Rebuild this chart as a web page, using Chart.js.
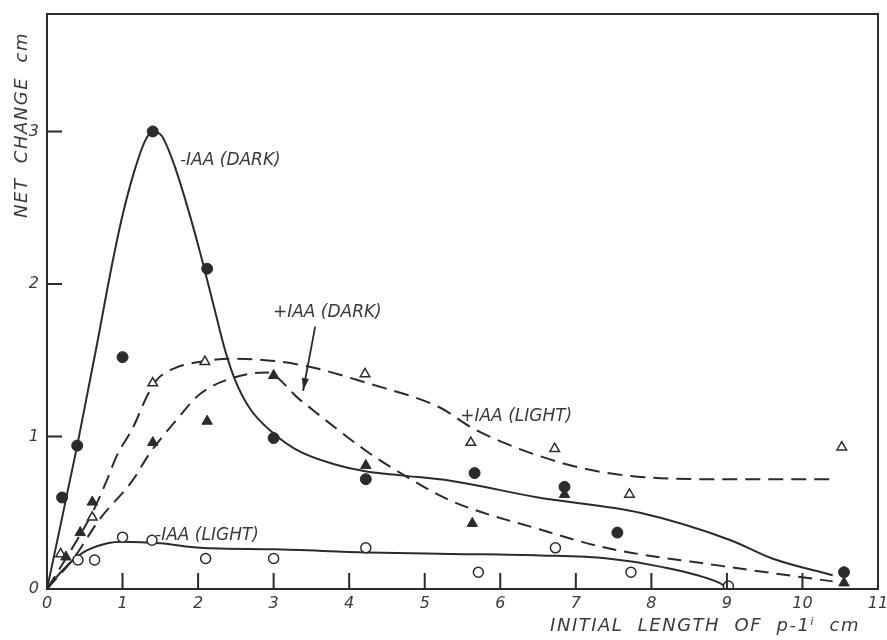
<!DOCTYPE html>
<html>
<head>
<meta charset="utf-8">
<script src="https://cdn.jsdelivr.net/npm/chart.js@4"></script>
<style>
  html, body { margin: 0; padding: 0; background: #fff; }
  #wrap { width: 887px; height: 640px; }
</style>
</head>
<body>
<div id="wrap"><canvas id="chart" width="887" height="640"></canvas></div>
<script>
const xTicks = [0, 1, 2, 3, 4, 5, 6, 7, 8, 9, 10, 11];
const yTicks = [0, 1, 2, 3];
const xMax = 11;
const yMax = 3.77;

// -IAA (DARK): filled circles + solid curve
const minusDarkX = [0.2, 0.4, 1.0, 1.4, 2.12, 3.0, 4.22, 5.66, 6.85, 7.55, 10.55];
const minusDarkY = [0.6, 0.94, 1.52, 3.0, 2.1, 0.99, 0.72, 0.76, 0.67, 0.37, 0.11];
const minusDarkCurveX = [0, 0.4, 0.66, 0.85, 1.0, 1.15, 1.3, 1.4, 1.52, 1.67, 1.85, 2.03, 2.2, 2.36, 2.49, 2.69, 3.0, 3.35, 3.79, 4.23, 4.68, 5.34, 6.5, 7.85, 9.05, 9.6, 10.4];
const minusDarkCurveY = [0, 0.94, 1.6, 2.1, 2.45, 2.73, 2.94, 3.0, 2.97, 2.8, 2.52, 2.2, 1.87, 1.56, 1.37, 1.18, 1.02, 0.9, 0.82, 0.77, 0.745, 0.71, 0.6, 0.5, 0.32, 0.2, 0.09];

// +IAA (DARK): filled triangles + dashed curve
const plusDarkX = [0.25, 0.44, 0.6, 1.4, 2.12, 3.0, 4.22, 5.63, 6.85, 10.55];
const plusDarkY = [0.21, 0.37, 0.57, 0.96, 1.1, 1.4, 0.81, 0.43, 0.62, 0.04];
const plusDarkCurveX = [0, 0.35, 0.7, 1.13, 1.36, 1.7, 2.03, 2.5, 2.9, 3.35, 4.24, 4.68, 5.34, 6.53, 7.4, 8.95, 10.4];
const plusDarkCurveY = [0, 0.2, 0.46, 0.71, 0.89, 1.1, 1.28, 1.39, 1.42, 1.24, 0.9, 0.76, 0.58, 0.39, 0.27, 0.15, 0.05];

// +IAA (LIGHT): open triangles + dashed curve
const plusLightX = [0.18, 0.6, 1.4, 2.09, 4.21, 5.61, 6.72, 7.71, 10.52];
const plusLightY = [0.23, 0.47, 1.35, 1.49, 1.41, 0.96, 0.92, 0.62, 0.93];
const plusLightCurveX = [0, 0.3, 0.6, 0.79, 0.92, 1.14, 1.32, 1.45, 1.7, 2.03, 2.47, 3.35, 4.24, 5.2, 5.65, 6.53, 7.42, 8.74, 10.41];
const plusLightCurveY = [0, 0.24, 0.5, 0.71, 0.87, 1.06, 1.26, 1.37, 1.45, 1.49, 1.51, 1.47, 1.35, 1.19, 1.05, 0.87, 0.76, 0.72, 0.72];

// -IAA (LIGHT): open circles + solid curve
const minusLightX = [0.41, 0.63, 1.0, 1.39, 2.1, 3.0, 4.22, 5.71, 6.73, 7.73, 9.02];
const minusLightY = [0.19, 0.19, 0.34, 0.32, 0.2, 0.2, 0.27, 0.11, 0.27, 0.11, 0.02];
const minusLightCurveX = [0, 0.2, 0.48, 0.8, 1.0, 1.5, 2.03, 3.0, 4.24, 5.34, 6.53, 7.42, 8.08, 8.9, 9.0];
const minusLightCurveY = [0, 0.12, 0.24, 0.3, 0.31, 0.3, 0.27, 0.26, 0.24, 0.23, 0.22, 0.2, 0.15, 0.04, 0.01];

// curve labels (anchored at their left edge, vertical centre)
const labelText = ['-IAA (DARK)', '+IAA (DARK)', '+IAA (LIGHT)', '-IAA (LIGHT)'];
const labelX = [1.76, 2.99, 5.47, 1.43];
const labelY = [2.81, 1.81, 1.13, 0.35];
// arrow from the +IAA (DARK) label to its curve
const arrowX = [3.55, 3.39];
const arrowY = [1.72, 1.3];

const INK = '#2b2b2b';
const TEXT = '#3a3a3a';
const FONT = 'DejaVu Sans';

function pts(xs, ys) {
    return xs.map((x, i) => ({ x: x, y: ys[i] }));
}

function curve(xs, ys, dash) {
    return {
        data: pts(xs, ys),
        showLine: true,
        borderColor: INK,
        borderWidth: 2,
        borderDash: dash,
        pointRadius: 0,
        cubicInterpolationMode: 'monotone',
        order: 2
    };
}

function marks(xs, ys, style, filled, r) {
    return {
        data: pts(xs, ys),
        showLine: false,
        pointStyle: style,
        pointRadius: r,
        pointBackgroundColor: filled ? INK : '#fff',
        pointBorderColor: INK,
        pointBorderWidth: filled ? 1 : 1.5,
        order: 1
    };
}

// frame, inward ticks, titles and curve labels
const decor = {
    id: 'decor',
    afterDraw(chart) {
        const { ctx, chartArea: a, scales: { x, y } } = chart;
        ctx.save();
        ctx.strokeStyle = INK;
        ctx.lineWidth = 2;
        ctx.strokeRect(a.left, a.top, a.right - a.left, a.bottom - a.top);

        ctx.beginPath();
        xTicks.filter(v => v > 0 && v < xMax).forEach(v => {
            const px = x.getPixelForValue(v);
            ctx.moveTo(px, a.bottom);
            ctx.lineTo(px, a.bottom - 16);
        });
        yTicks.filter(v => v > 0).forEach(v => {
            const py = y.getPixelForValue(v);
            ctx.moveTo(a.left, py);
            ctx.lineTo(a.left + 15, py);
        });
        ctx.stroke();

        // arrow
        const x0 = x.getPixelForValue(arrowX[0]), y0 = y.getPixelForValue(arrowY[0]);
        const x1 = x.getPixelForValue(arrowX[1]), y1 = y.getPixelForValue(arrowY[1]);
        ctx.lineWidth = 1.8;
        ctx.beginPath();
        ctx.moveTo(x0, y0);
        ctx.lineTo(x1, y1);
        ctx.stroke();
        const ang = Math.atan2(y1 - y0, x1 - x0);
        ctx.fillStyle = INK;
        ctx.beginPath();
        ctx.moveTo(x1, y1);
        ctx.lineTo(x1 - 13 * Math.cos(ang - 0.28), y1 - 13 * Math.sin(ang - 0.28));
        ctx.lineTo(x1 - 13 * Math.cos(ang + 0.28), y1 - 13 * Math.sin(ang + 0.28));
        ctx.closePath();
        ctx.fill();

        // curve labels
        ctx.fillStyle = TEXT;
        ctx.font = 'italic 17px "' + FONT + '"';
        ctx.textBaseline = 'middle';
        ctx.textAlign = 'left';
        labelText.forEach((t, i) => {
            ctx.fillText(t, x.getPixelForValue(labelX[i]), y.getPixelForValue(labelY[i]));
        });

        // axis titles
        ctx.letterSpacing = '1.5px';
        ctx.font = 'italic 18px "' + FONT + '"';
        ctx.textAlign = 'right';
        ctx.fillText('INITIAL  LENGTH  OF  p-1ⁱ  cm', a.right - 18, 626);

        ctx.translate(22, 125);
        ctx.rotate(-Math.PI / 2);
        ctx.textAlign = 'center';
        ctx.fillText('NET  CHANGE  cm', 0, 0);
        ctx.restore();
    }
};

const tickFont = { family: FONT, size: 16, style: 'italic' };

new Chart(document.getElementById('chart'), {
    type: 'scatter',
    data: {
        datasets: [
            curve(minusDarkCurveX, minusDarkCurveY, []),
            curve(plusDarkCurveX, plusDarkCurveY, [14, 8]),
            curve(plusLightCurveX, plusLightCurveY, [15, 8]),
            curve(minusLightCurveX, minusLightCurveY, []),
            marks(minusDarkX, minusDarkY, 'circle', true, 5.5),
            marks(plusDarkX, plusDarkY, 'triangle', true, 6),
            marks(plusLightX, plusLightY, 'triangle', false, 5.5),
            marks(minusLightX, minusLightY, 'circle', false, 5)
        ]
    },
    options: {
        responsive: false,
        animation: false,
        events: [],
        layout: { padding: { top: 14, right: 9, left: 0, bottom: 0 } },
        plugins: { legend: { display: false }, tooltip: { enabled: false } },
        scales: {
            x: {
                type: 'linear',
                min: 0,
                max: xMax,
                afterBuildTicks: s => { s.ticks = xTicks.map(v => ({ value: v })); },
                afterFit: s => { s.height = 51; s.paddingLeft = 0; s.paddingRight = 0; },
                grid: { display: false, drawTicks: false },
                border: { display: false },
                ticks: { padding: 5, maxRotation: 0, color: TEXT, font: tickFont }
            },
            y: {
                type: 'linear',
                min: 0,
                max: yMax,
                afterBuildTicks: s => { s.ticks = yTicks.map(v => ({ value: v })); },
                afterFit: s => { s.width = 47; s.paddingTop = 0; s.paddingBottom = 0; },
                grid: { display: false, drawTicks: false },
                border: { display: false },
                ticks: { padding: 8, color: TEXT, font: tickFont }
            }
        }
    },
    plugins: [decor]
});
</script>
</body>
</html>
